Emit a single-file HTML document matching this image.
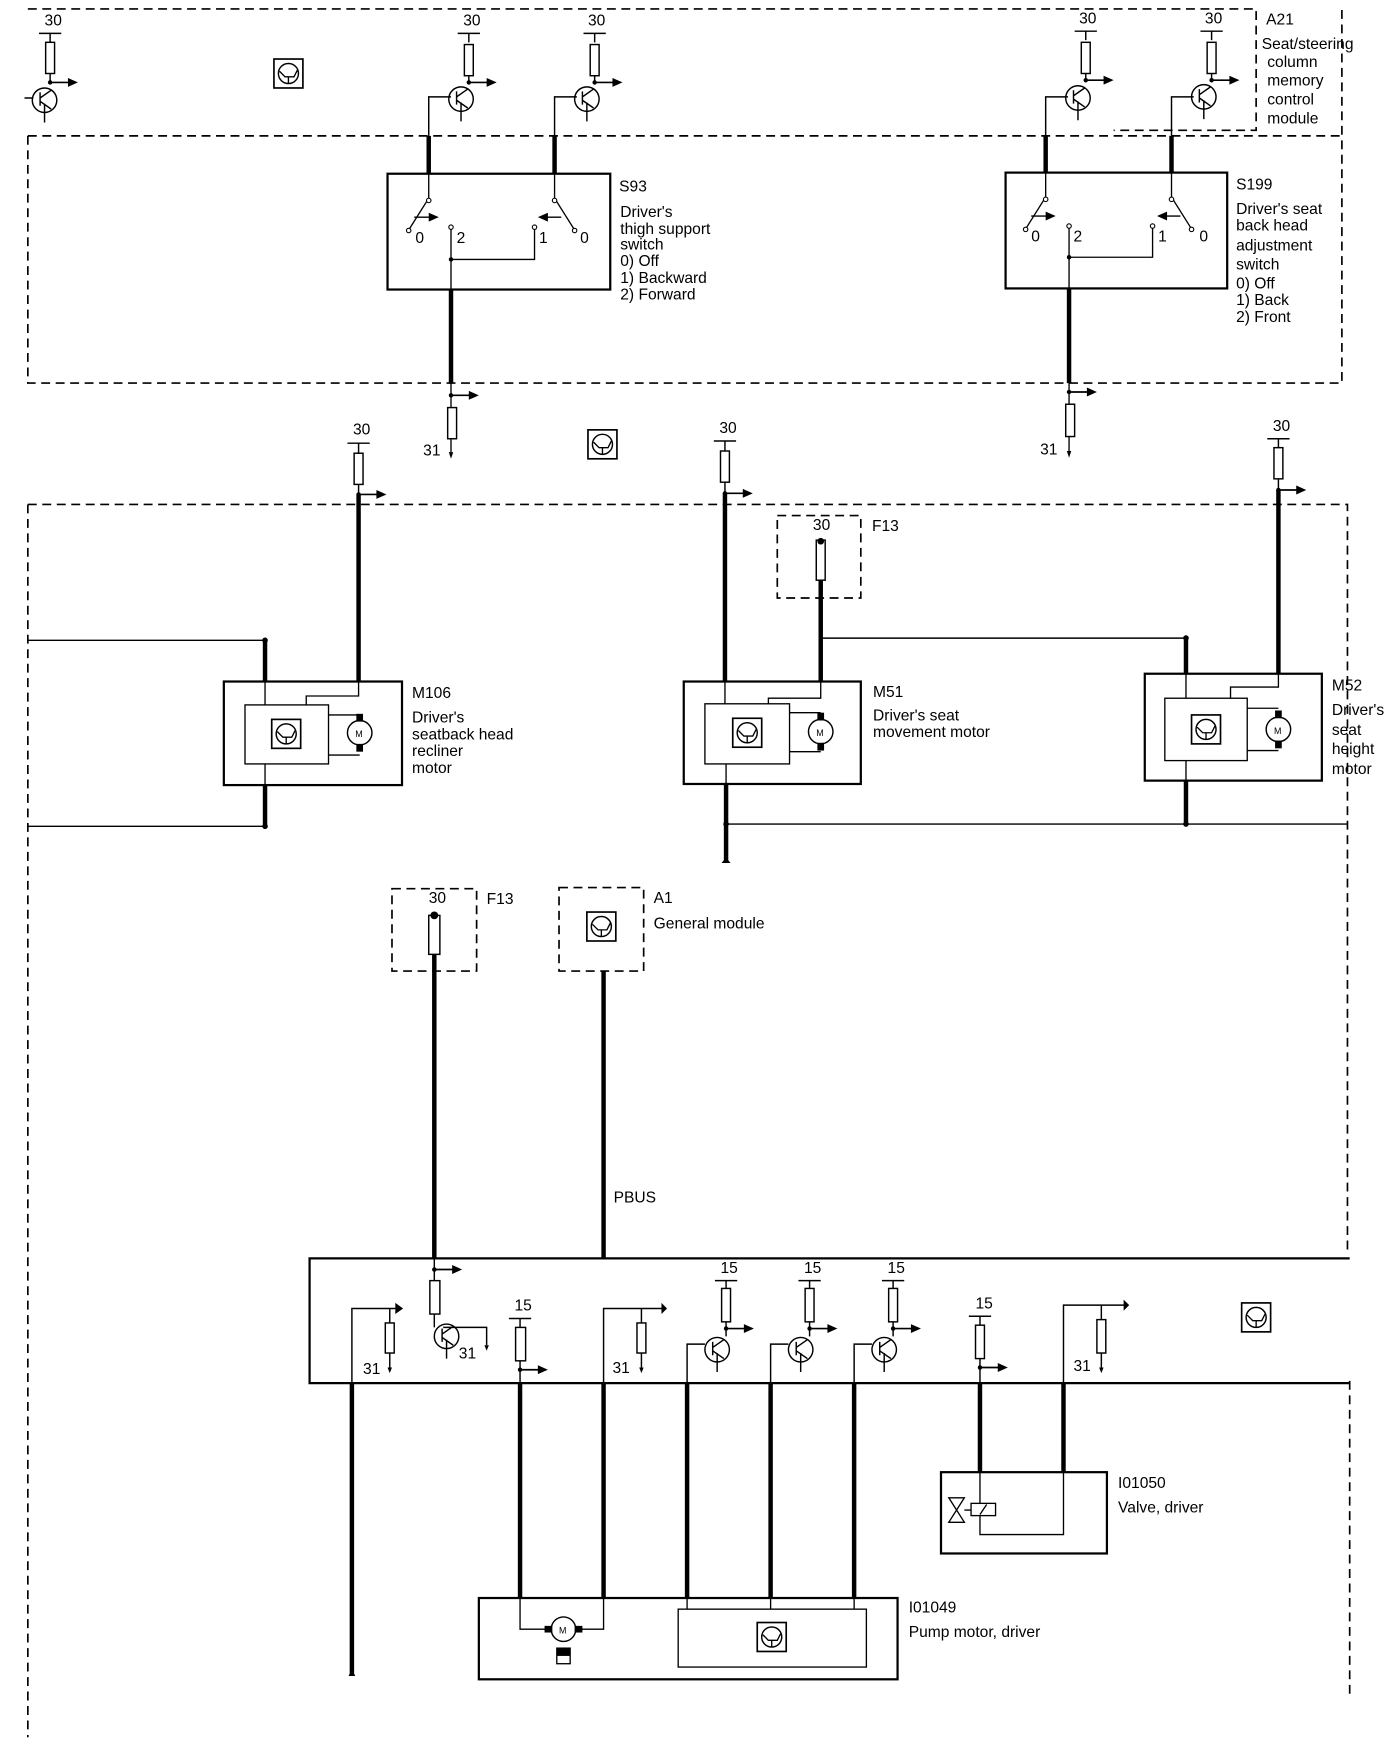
<!DOCTYPE html>
<html><head><meta charset="utf-8"><style>
html,body{margin:0;padding:0;background:#fff;}
svg{display:block;}
text{font-family:"Liberation Sans",sans-serif;font-size:14px;fill:#000;}
</style></head><body>
<svg width="1392" height="1740" viewBox="0 0 1250 1562.5" preserveAspectRatio="none" xmlns="http://www.w3.org/2000/svg">
<defs>
<g id="ico"><rect x="-13" y="-13" width="26" height="26" fill="#fff" stroke="#000" stroke-width="1.5"/><circle r="9" fill="none" stroke="#000" stroke-width="1.3"/><path d="M-8,-2 L-3,3 L5,3 L8,-3 M0,3 V9" fill="none" stroke="#000" stroke-width="1.2"/></g>
<g id="tr"><circle r="11" fill="none" stroke="#000" stroke-width="1.3"/><path d="M-4,-7 V5 M-4,-2 L6,-9 M-4,1 L6,8 M0,3 V20" fill="none" stroke="#000" stroke-width="1.3"/></g>
<g id="arr"><line x1="0" y1="0" x2="18" y2="0" stroke="#000" stroke-width="1.5"/><polygon points="16,-4 25,0 16,4" fill="#000"/><circle r="2" fill="#000"/></g>
<g id="mot"><circle r="11" fill="#fff" stroke="#000" stroke-width="1.3"/><rect x="-3" y="-17" width="6" height="7" fill="#000"/><rect x="-3" y="10" width="6" height="7" fill="#000"/><text x="-4" y="4" style="font-size:8px">M</text></g>
</defs>
<g fill="none" stroke="#000">
<g stroke-width="1.5" stroke-dasharray="8,5">
<path d="M25,8 H1128 V117 H1000"/>
<path d="M25,122 H1205"/>
<path d="M25,122 V344 H1205 V8"/>
<path d="M25,453 H1210 V1125"/>
<path d="M25,453 V1560"/>
<path d="M1212,1240 V1525"/>
<rect x="698" y="463" width="75" height="74"/>
<rect x="352" y="798" width="76" height="74"/>
<rect x="502" y="797" width="76" height="75"/>
</g>
</g>
<g fill="none" stroke="#000" stroke-width="1.3">
<path d="M35,30 H55 M45,30 V38 M45,66 V74"/>
<rect x="41" y="38" width="8" height="28"/>
<path d="M411,30 H431 M421,30 V38 M421,68 V76"/>
<rect x="417" y="40" width="8" height="28"/>
<path d="M524,30 H544 M534,30 V38 M534,68 V76"/>
<rect x="530" y="40" width="8" height="28"/>
<path d="M965,28 H985 M975,28 V36 M975,66 V74"/>
<rect x="971" y="38" width="8" height="28"/>
<path d="M1078,28 H1098 M1088,28 V36 M1088,66 V74"/>
<rect x="1084" y="38" width="8" height="28"/>
<path d="M385,122 V87 H405 M498,122 V87 H518 M939,122 V87 H959 M1052,122 V87 H1072 M22,88 H30"/>
</g>
<use href="#arr" x="45" y="74"/><use href="#arr" x="421" y="74"/><use href="#arr" x="534" y="74"/><use href="#arr" x="975" y="72"/><use href="#arr" x="1088" y="72"/>
<use href="#tr" x="40" y="90"/><use href="#tr" x="414" y="89"/><use href="#tr" x="527" y="89"/><use href="#tr" x="968" y="88"/><use href="#tr" x="1081" y="87"/>
<text x="40" y="23">30</text><text x="416" y="23">30</text><text x="528" y="23">30</text><text x="969" y="21">30</text><text x="1082" y="21">30</text>
<use href="#ico" x="259" y="66"/>
<text x="1137" y="22">A21</text>
<text x="1133" y="44">Seat/steering</text><text x="1138" y="60">column</text><text x="1138" y="77">memory</text><text x="1138" y="94">control</text><text x="1138" y="111">module</text>
<g fill="none" stroke="#000">
<path d="M385,122 V156 M498,122 V156 M405,260 V344 M939,122 V155 M1052,122 V155 M960,259 V344" stroke-width="4"/>
<rect x="348" y="156" width="200" height="104" stroke-width="2"/>
<rect x="903" y="155" width="199" height="104" stroke-width="2"/>
<g stroke-width="1.2">
<path d="M385,156 V178 L368,205 M498,156 V178 L515,205 M405,206 V260 M405,233 H480 V206"/>
<path d="M939,155 V177 L922,204 M1052,155 V177 L1069,204 M960,205 V259 M960,231 H1035 V205"/>
<path d="M405,344 V366 M405,394 V406 M960,344 V363 M960,392 V405"/>
</g>
<rect x="402" y="366" width="8" height="28" stroke-width="1.3"/>
<rect x="957" y="363" width="8" height="29" stroke-width="1.3"/>
</g>
<g fill="#fff" stroke="#000" stroke-width="1"><circle cx="385" cy="180" r="2"/><circle cx="367" cy="207" r="2"/><circle cx="405" cy="204" r="2"/><circle cx="480" cy="204" r="2"/><circle cx="498" cy="180" r="2"/><circle cx="516" cy="207" r="2"/>
<circle cx="939" cy="179" r="2"/><circle cx="921" cy="206" r="2"/><circle cx="960" cy="203" r="2"/><circle cx="1035" cy="203" r="2"/><circle cx="1052" cy="179" r="2"/><circle cx="1070" cy="206" r="2"/></g>
<g fill="#000">
<polygon points="385,191 394,195 385,199"/><polygon points="492,191 483,195 492,199"/>
<polygon points="939,190 948,194 939,198"/><polygon points="1048,190 1039,194 1048,198"/>
<circle cx="405" cy="233" r="2"/><circle cx="960" cy="231" r="2"/>
<polygon points="403,406 407,406 405,412"/><polygon points="958,405 962,405 960,411"/></g>
<path d="M372,195 H386 M490,195 H504 M926,194 H940 M1046,194 H1060" stroke="#000" stroke-width="1.2"/>
<text x="373" y="218">0</text><text x="410" y="218">2</text><text x="484" y="218">1</text><text x="521" y="218">0</text>
<text x="926" y="217">0</text><text x="964" y="217">2</text><text x="1040" y="217">1</text><text x="1077" y="217">0</text>
<use href="#arr" x="405" y="355"/><use href="#arr" x="960" y="352"/>
<text x="380" y="409">31</text><text x="934" y="408">31</text>
<text x="556" y="172">S93</text><text x="557" y="195">Driver's</text><text x="557" y="210">thigh support</text><text x="557" y="224">switch</text><text x="557" y="239">0) Off</text><text x="557" y="254">1) Backward</text><text x="557" y="269">2) Forward</text>
<text x="1110" y="170">S199</text><text x="1110" y="192">Driver's seat</text><text x="1110" y="207">back head</text><text x="1110" y="225">adjustment</text><text x="1110" y="242">switch</text><text x="1110" y="259">0) Off</text><text x="1110" y="274">1) Back</text><text x="1110" y="289">2) Front</text>
<use href="#ico" x="541" y="399"/>
<g fill="none" stroke="#000" stroke-width="1.3">
<path d="M312,398 H332 M322,398 V407 M322,435 V444"/><rect x="318" y="407" width="8" height="28"/>
<path d="M641,396 H661 M651,396 V405 M651,433 V443"/><rect x="647" y="405" width="8" height="28"/>
<path d="M1138,394 H1158 M1148,394 V402 M1148,430 V440"/><rect x="1144" y="402" width="8" height="28"/>
<rect x="733" y="485" width="8" height="36"/>
<path d="M25,575 H238 M737,573 H1065 M238,742 H25 M652,740 H1210"/>
</g>
<g stroke="#000" stroke-width="4" fill="none">
<path d="M322,444 V612 M651,443 V612 M1148,440 V605 M737,521 V612 M238,575 V612 M1065,573 V605 M238,705 V742 M652,704 V775 M1065,701 V740 M390,822 V1130 M542,872 V1130"/>
</g>
<use href="#arr" x="322" y="444"/><use href="#arr" x="651" y="443"/><use href="#arr" x="1148" y="440"/>
<text x="317" y="390">30</text><text x="646" y="389">30</text><text x="1143" y="387">30</text>
<text x="730" y="476">30</text><text x="783" y="477">F13</text>
<circle cx="737" cy="486" r="3" fill="#000"/>
<g fill="#000"><circle cx="238" cy="575" r="2.5"/><circle cx="1065" cy="573" r="2.5"/><circle cx="238" cy="742" r="2.5"/><circle cx="652" cy="740" r="2.5"/><circle cx="1065" cy="740" r="2.5"/><polygon points="648,775 656,775 652,770"/></g>
<g fill="none" stroke="#000">
<rect x="201" y="612" width="160" height="93" stroke-width="2"/>
<rect x="220" y="633" width="75" height="53" stroke-width="1.2"/>
<path d="M238,612 V633 M238,686 V705 M322,612 V625 H275 V633 M295,642 H323 M295,678 H323" stroke-width="1.2"/>
<rect x="614" y="612" width="159" height="92" stroke-width="2"/>
<rect x="633" y="632" width="76" height="54" stroke-width="1.2"/>
<path d="M651,612 V632 M652,686 V704 M737,612 V627 H690 V632 M709,640 H737 M709,675 H737" stroke-width="1.2"/>
<rect x="1028" y="605" width="159" height="96" stroke-width="2"/>
<rect x="1046" y="627" width="74" height="56" stroke-width="1.2"/>
<path d="M1065,605 V627 M1065,683 V701 M1148,605 V617 H1105 V627 M1120,636 H1148 M1120,674 H1148" stroke-width="1.2"/>
</g>
<use href="#ico" x="257" y="659"/><use href="#mot" x="323" y="658"/>
<use href="#ico" x="671" y="658"/><use href="#mot" x="737" y="657"/>
<use href="#ico" x="1083" y="655"/><use href="#mot" x="1148" y="655"/>
<text x="370" y="627">M106</text><text x="370" y="649">Driver's</text><text x="370" y="664">seatback head</text><text x="370" y="679">recliner</text><text x="370" y="694">motor</text>
<text x="784" y="626">M51</text><text x="784" y="647">Driver's seat</text><text x="784" y="662">movement motor</text>
<text x="1196" y="620">M52</text><text x="1196" y="642">Driver's</text><text x="1196" y="660">seat</text><text x="1196" y="677">height</text><text x="1196" y="695">motor</text>
<rect x="385" y="822" width="10" height="35" fill="#fff" stroke="#000" stroke-width="1.3"/>
<circle cx="390" cy="822" r="3.5" fill="#000"/>
<text x="385" y="811">30</text><text x="437" y="812">F13</text>
<use href="#ico" x="540" y="832"/>
<text x="587" y="811">A1</text><text x="587" y="834">General module</text>
<text x="551" y="1080">PBUS</text>
<path d="M1212,1130 H278 V1242 H1212" fill="none" stroke="#000" stroke-width="2"/>
<g fill="none" stroke="#000" stroke-width="1.3">
<path d="M316,1242 V1175 H355 M350,1175 V1188 M350,1215 V1228"/><rect x="346" y="1188" width="8" height="27"/>
<path d="M390,1130 V1150 M390,1180 V1192 M398,1192 H437 V1208"/><rect x="386" y="1150" width="9" height="30"/>
<path d="M457,1184 H477 M467,1184 V1192 M467,1222 V1242"/><rect x="463" y="1192" width="9" height="30"/>
<path d="M542,1242 V1175 H595 M576,1175 V1188 M576,1215 V1228"/><rect x="572" y="1188" width="8" height="27"/>
<path d="M642,1150 H662 M652,1150 V1157 M652,1187 V1200"/><rect x="648" y="1157" width="8" height="30"/>
<path d="M717,1150 H737 M727,1150 V1157 M727,1187 V1200"/><rect x="723" y="1157" width="8" height="30"/>
<path d="M792,1150 H812 M802,1150 V1157 M802,1187 V1200"/><rect x="798" y="1157" width="8" height="30"/>
<path d="M617,1242 V1207 H633 M692,1242 V1207 H708 M767,1242 V1207 H783"/>
<path d="M870,1182 H890 M880,1182 V1190 M880,1220 V1242"/><rect x="876" y="1190" width="8" height="30"/>
<path d="M955,1242 V1172 H1010 M989,1172 V1185 M989,1215 V1228"/><rect x="985" y="1185" width="8" height="30"/>
</g>
<g fill="#000"><polygon points="355,1170 362,1175 355,1180 355,1170"/><polygon points="594,1170 599,1175 594,1180"/><polygon points="1009,1167 1014,1172 1009,1177"/>
<polygon points="348,1228 352,1228 350,1233"/><polygon points="574,1228 578,1228 576,1233"/><polygon points="987,1228 991,1228 989,1233"/><polygon points="435,1208 439,1208 437,1213"/></g>
<use href="#arr" x="390" y="1140"/><use href="#arr" x="467" y="1230"/><use href="#arr" x="652" y="1193"/><use href="#arr" x="727" y="1193"/><use href="#arr" x="802" y="1193"/><use href="#arr" x="880" y="1228"/>
<use href="#tr" x="401" y="1200"/><use href="#tr" x="644" y="1212"/><use href="#tr" x="719" y="1212"/><use href="#tr" x="794" y="1212"/>
<use href="#ico" x="1128" y="1183"/>
<text x="326" y="1234">31</text><text x="412" y="1220">31</text><text x="462" y="1177">15</text><text x="550" y="1233">31</text>
<text x="647" y="1143">15</text><text x="722" y="1143">15</text><text x="797" y="1143">15</text><text x="876" y="1175">15</text><text x="964" y="1231">31</text>
<g stroke="#000" stroke-width="4" fill="none">
<path d="M316,1242 V1505 M467,1242 V1435 M542,1242 V1435 M617,1242 V1435 M692,1242 V1435 M767,1242 V1435 M880,1242 V1322 M955,1242 V1322"/>
</g>
<polygon points="313,1505 319,1505 316,1499" fill="#000"/>
<g fill="none" stroke="#000">
<rect x="845" y="1322" width="149" height="73" stroke-width="2"/>
<path d="M880,1322 V1378 H955 V1322" stroke-width="1.2"/>
<path d="M852,1345 L866,1345 L852,1367 L866,1367 Z" stroke-width="1.2"/>
<rect x="872" y="1350" width="22" height="11" fill="#fff" stroke-width="1.2"/>
<path d="M880,1360 L886,1351 M866,1356 H872" stroke-width="1.2"/>
</g>
<text x="1004" y="1336">I01050</text><text x="1004" y="1358">Valve, driver</text>
<g fill="none" stroke="#000">
<rect x="430" y="1435" width="376" height="73" stroke-width="2"/>
<rect x="609" y="1445" width="169" height="52" stroke-width="1.2"/>
<path d="M467,1435 V1463 H492 M542,1435 V1463 H520 M617,1435 V1445 M692,1435 V1445 M767,1435 V1445" stroke-width="1.2"/>
</g>
<g transform="translate(506,1463) rotate(90)"><circle r="11" fill="#fff" stroke="#000" stroke-width="1.3"/><rect x="-3" y="-17" width="6" height="7" fill="#000"/><rect x="-3" y="10" width="6" height="7" fill="#000"/></g>
<text x="502" y="1467" style="font-size:8px">M</text>
<rect x="500" y="1480" width="12" height="14" fill="#fff" stroke="#000" stroke-width="1.2"/><rect x="500" y="1480" width="12" height="7" fill="#000"/>
<use href="#ico" x="693" y="1470"/>
<text x="816" y="1448">I01049</text><text x="816" y="1470">Pump motor, driver</text>
</svg>
</body></html>
